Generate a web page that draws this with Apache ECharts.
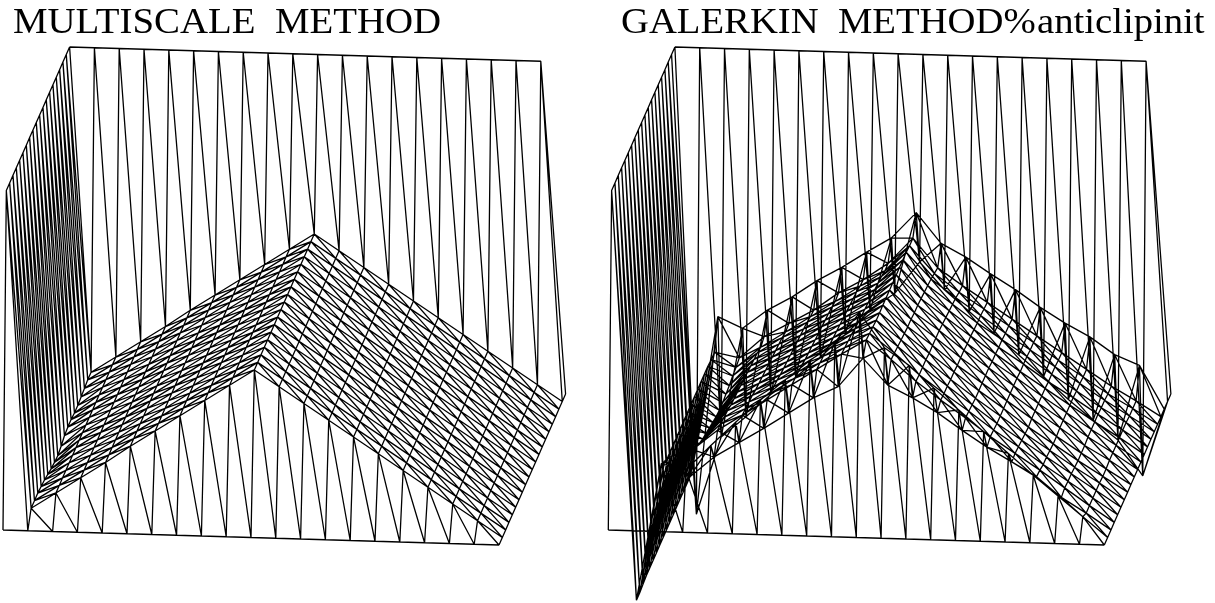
<!DOCTYPE html>
<html>
<head>
<meta charset="utf-8">
<script src="https://cdn.jsdelivr.net/npm/echarts@6/dist/echarts.min.js"></script>
<style>
  html, body { margin: 0; padding: 0; background: #fff; }
  #chart { width: 1215px; height: 603px; }
</style>
</head>
<body>
<div id="chart"></div>
<script>
// heights of the surface, one value per column (i = 0..20)
const wallFront = [0,0,0,0,0,0,0,0,0,0,0,0,0,0,0,0,0,0,0,0,0];
const wallBack = [332,332,332,332,332,332,332,332,332,332,332,332,332,332,332,332,332,332,332,332,0];
const multiscaleRoof = [332,15,31,47,63,80,96,112,128,144,160,144,128,112,96,80,64,48,32,16,0];
// first inner column of the multiscale surface, rows j = 1..19
const multiscaleEdge = [15,15,15,14,13,11,9,8,7,9,12,13,13,12,12,13,14,15,15];

const galerkinRow01 = [332,-77,60,55,80,104,127,148,168,187,217,183,166,144,123,102,81,60,40,20,0];
const galerkinRow02 = [332,-77,55,40,61,76,91,107,123,135,164,138,126,112,95,79,65,51,31,16,0];
const galerkinRow03 = [332,-76,52,60,80,96,112,128,144,160,175,156,135,117,100,82,66,50,33,16,0];
const galerkinRow04 = [332,-75,52,55,79,95,111,127,143,159,174,155,134,116,99,81,65,48,32,16,0];
const galerkinRow05 = [332,-75,52,51,78,94,110,126,142,158,173,154,134,116,98,80,64,48,32,16,0];
const galerkinRow06 = [332,-75,52,48,77,93,109,125,141,157,172,153,134,115,97,80,63,47,31,16,0];
const galerkinRow07 = [332,-75,52,46,75,91,107,123,139,155,172,152,133,115,97,80,62,46,30,15,0];
const galerkinRow08 = [332,-75,52,44,74,90,106,122,138,154,172,151,133,114,97,80,63,46,30,15,0];
const galerkinRow09 = [332,-75,52,42,73,89,105,121,137,153,172,151,133,114,97,80,63,47,30,16,0];
const galerkinRow10 = [332,-75,52,40,72,88,104,120,136,152,172,150,133,114,97,80,63,47,31,16,0];
const galerkinRow11 = [332,-75,52,39,71,87,103,119,135,151,172,150,132,113,96,80,63,47,31,16,0];
const galerkinRow12 = [332,-75,52,39,70,86,102,118,134,150,172,149,131,113,96,79,63,47,31,16,0];
const galerkinRow13 = [332,-75,52,40,69,85,101,117,133,149,172,148,130,112,95,79,62,47,31,16,0];
const galerkinRow14 = [332,-75,52,41,68,84,100,116,132,148,172,147,129,111,95,79,62,46,30,16,0];
const galerkinRow15 = [332,-75,52,43,67,83,99,115,131,147,172,146,128,111,94,78,62,46,30,15,0];
const galerkinRow16 = [332,-75,51,44,65,81,97,113,129,145,171,144,126,110,94,78,61,45,29,15,0];
const galerkinRow17 = [332,-75,51,46,68,82,96,114,128,145,171,142,125,109,93,77,61,45,29,15,0];
const galerkinRow18 = [332,-70,79,68,87,101,118,132,148,163,189,159,146,130,115,98,83,70,53,43,0];
const galerkinRow19 = [332,-127,-49,-28,-5,13,34,57,82,100,132,105,84,63,42,21,-1,-21,-40,-75,0];

const titleLeft = 'MULTISCALE  METHOD';
const titleRight = 'GALERKIN  METHOD%';
const titleNote = 'anticlipinit';

const multiscaleRows = [wallFront];
for (let j = 1; j < 20; j++) {
  const row = multiscaleRoof.slice();
  row[1] = multiscaleEdge[j - 1];
  multiscaleRows.push(row);
}
multiscaleRows.push(wallBack);

const galerkinRows = [
  wallFront,
  galerkinRow01, galerkinRow02, galerkinRow03, galerkinRow04, galerkinRow05,
  galerkinRow06, galerkinRow07, galerkinRow08, galerkinRow09, galerkinRow10,
  galerkinRow11, galerkinRow12, galerkinRow13, galerkinRow14, galerkinRow15,
  galerkinRow16, galerkinRow17, galerkinRow18, galerkinRow19,
  wallBack
];

// oblique view of the mesh: node (i, j) with height h
const project = (rows, i, j) => [
  3 + 24.8 * i + 3.33 * j,
  530 + 0.75 * i - 7.55 * j - rows[j][i]
];

// rows, columns and one diagonal per cell, gaps between the polylines
const wireframe = (rows) => {
  const points = [];
  const gap = ['-', '-'];
  for (let j = 0; j <= 20; j++) {
    for (let i = 0; i <= 20; i++) points.push(project(rows, i, j));
    points.push(gap);
  }
  for (let i = 0; i <= 20; i++) {
    for (let j = 0; j <= 20; j++) points.push(project(rows, i, j));
    points.push(gap);
  }
  for (let j = 0; j < 20; j++) {
    for (let i = 0; i < 20; i++) {
      points.push(project(rows, i, j + 1), project(rows, i + 1, j), gap);
    }
  }
  return points;
};

const panelAxis = (gridIndex, max) => ({
  type: 'value',
  gridIndex: gridIndex,
  min: 0,
  max: max,
  show: false
});

const meshSeries = (index, rows) => ({
  type: 'line',
  xAxisIndex: index,
  yAxisIndex: index,
  data: wireframe(rows),
  symbol: 'none',
  connectNulls: false,
  clip: false,
  animation: false,
  silent: true,
  lineStyle: { color: '#000', width: 1.3 }
});

// the titles of the reference are a bit wider than the font, hence scaleX
const titleText = (text, x, scaleX) => ({
  type: 'text',
  x: x,
  y: 41,
  scaleX: scaleX,
  style: {
    text: text,
    x: 0,
    y: 0,
    font: '35px "Liberation Serif"',
    fill: '#000',
    textAlign: 'left',
    textVerticalAlign: 'bottom',
    verticalAlign: 'bottom'
  }
});

const myChart = echarts.init(document.getElementById('chart'), null, { renderer: 'canvas' });
myChart.setOption({
  backgroundColor: '#fff',
  animation: false,
  graphic: [
    titleText(titleLeft, 13, 1.11),
    titleText(titleRight, 621, 1.105),
    titleText(titleNote, 1037, 1.105)
  ],
  grid: [
    { left: 0, top: 0, width: 600, height: 603 },
    { left: 605.3, top: 0, width: 600, height: 603 }
  ],
  xAxis: [panelAxis(0, 600), panelAxis(1, 600)],
  yAxis: [
    Object.assign(panelAxis(0, 603), { inverse: true }),
    Object.assign(panelAxis(1, 603), { inverse: true })
  ],
  series: [meshSeries(0, multiscaleRows), meshSeries(1, galerkinRows)]
});
</script>
</body>
</html>
